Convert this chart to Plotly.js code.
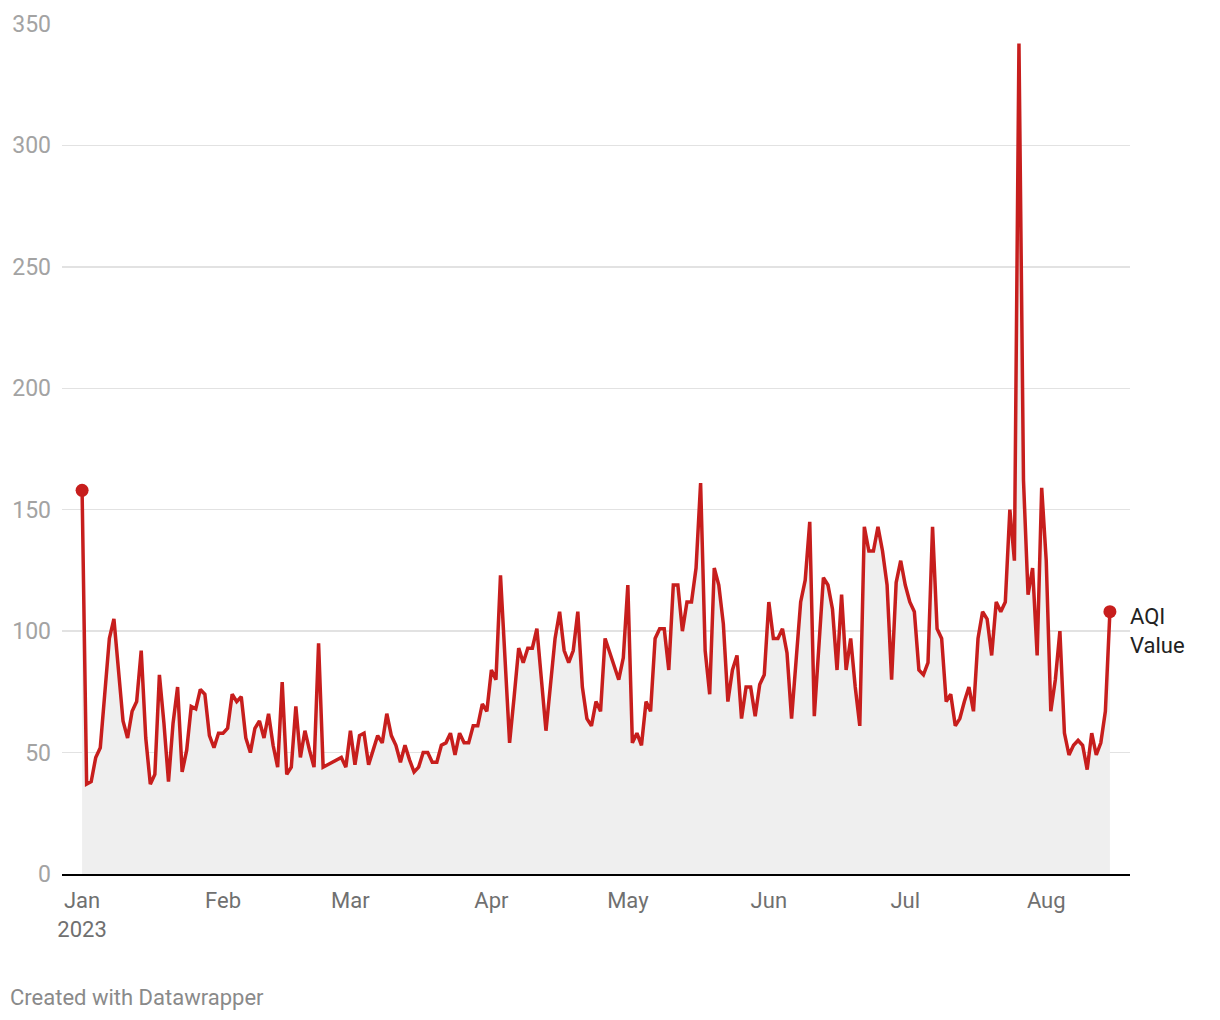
<!DOCTYPE html>
<html>
<head>
<meta charset="utf-8">
<script src="https://cdn.plot.ly/plotly-3.0.1.min.js"></script>
<style>
  html, body { margin: 0; padding: 0; background: #ffffff; }
  #chart { width: 1220px; height: 1020px; }
</style>
</head>
<body>
<div id="chart"></div>
<script>
// Daily AQI values, 1 Jan 2023 – 15 Aug 2023
const startDate = "2023-01-01";
const aqi = [
  158, 37, 38, 48, 52, 75, 97, 105, 82, 63, 56, 67, 71, 92, 56, 37, 41, 82, 62, 38,
  62, 77, 42, 51, 69, 68, 76, 74, 57, 52, 58,
  58, 60, 74, 71, 73, 56, 50, 60, 63, 56, 66, 53, 44, 79, 41, 44, 69, 48, 59, 51,
  44, 95, 44, 45, 46, 47, 48, 44,
  59, 45, 57, 58, 45, 51, 57, 54, 66, 57, 53, 46, 53, 47, 42, 44, 50, 50, 46, 46,
  53, 54, 58, 49, 58, 54, 54, 61, 61, 70, 67,
  84, 80, 123, 90, 54, 73, 93, 87, 93, 93, 101, 80, 59, 78, 97, 108, 92, 87, 92, 108,
  77, 64, 61, 71, 67, 97, 91, 85, 80, 89,
  119, 54, 58, 53, 71, 67, 97, 101, 101, 84, 119, 119, 100, 112, 112, 126, 161, 92, 74, 126,
  119, 103, 71, 84, 90, 64, 77, 77, 65, 78, 82,
  112, 97, 97, 101, 91, 64, 88, 112, 121, 145, 65, 92, 122, 119, 109, 84, 115, 84, 97, 77,
  61, 143, 133, 133, 143, 133, 119, 80, 120, 129,
  119, 112, 108, 84, 82, 87, 143, 101, 97, 71, 74, 61, 64, 71, 77, 67, 97, 108, 105, 90,
  112, 108, 112, 150, 129, 342, 162, 115, 126, 90, 159,
  129, 67, 80, 100, 58, 49, 53, 55, 53, 43, 58, 49, 54, 67, 108
];
const tickDates = ["2023-01-01", "2023-02-01", "2023-03-01", "2023-04-01", "2023-05-01", "2023-06-01", "2023-07-01", "2023-08-01"];
const tickLabels = ["Jan<br>2023", "Feb", "Mar", "Apr", "May", "Jun", "Jul", "Aug"];
const yTicks = [0, 50, 100, 150, 200, 250, 300, 350];
const seriesName = "AQI<br>Value";

// build the daily date axis from the start date
const dates = [];
const d0 = new Date(startDate + "T00:00:00Z");
for (let i = 0; i < aqi.length; i++) {
  const d = new Date(d0.getTime() + i * 86400000);
  dates.push(d.toISOString().slice(0, 10));
}
const last = aqi.length - 1;

const red = "#c71e1d";

const traces = [
  {
    x: dates, y: aqi, type: "scatter", mode: "lines",
    line: { color: red, width: 3.5, shape: "linear" },
    fill: "tozeroy", fillcolor: "#efefef",
    hoverinfo: "skip", showlegend: false
  },
  {
    x: [dates[0], dates[last]], y: [aqi[0], aqi[last]],
    type: "scatter", mode: "markers",
    marker: { color: red, size: 13 },
    hoverinfo: "skip", showlegend: false
  }
];

const layout = {
  width: 1220, height: 1020,
  margin: { l: 62, r: 90, t: 24, b: 146 },
  paper_bgcolor: "#ffffff", plot_bgcolor: "#ffffff",
  font: { family: "Roboto, 'Noto Sans', sans-serif", size: 22, color: "#333333" },
  showlegend: false,
  xaxis: {
    type: "date",
    range: ["2022-12-27 14:00", "2023-08-19 10:00"],
    tickvals: tickDates, ticktext: tickLabels,
    tickfont: { size: 22, color: "#707070" },
    showgrid: false, zeroline: false,
    showline: true, linecolor: "#000000", linewidth: 2,
    ticks: "", ticklabelstandoff: 6,
    fixedrange: true
  },
  yaxis: {
    range: [0, 350],
    tickvals: yTicks,
    tickfont: { size: 23, color: "#a3a3a3" },
    showgrid: true, gridcolor: "#e2e2e2", gridwidth: 1.5,
    zeroline: false, showline: false, ticks: "",
    ticklabelstandoff: 10,
    fixedrange: true
  },
  annotations: [
    {
      x: dates[last], y: aqi[last], xref: "x", yref: "y",
      text: seriesName, showarrow: false,
      xanchor: "left", yanchor: "middle", align: "left",
      xshift: 18, yshift: -19,
      font: { size: 22, color: "#222222" }
    },
    {
      x: (8 - 62) / 1068, y: (874 - 997) / 850, xref: "paper", yref: "paper",
      text: "Created with Datawrapper", showarrow: false,
      xanchor: "left", yanchor: "middle",
      font: { size: 22, color: "#8a8a8a" }
    }
  ]
};

Plotly.newPlot("chart", traces, layout, { displayModeBar: false, staticPlot: true });
</script>
</body>
</html>
